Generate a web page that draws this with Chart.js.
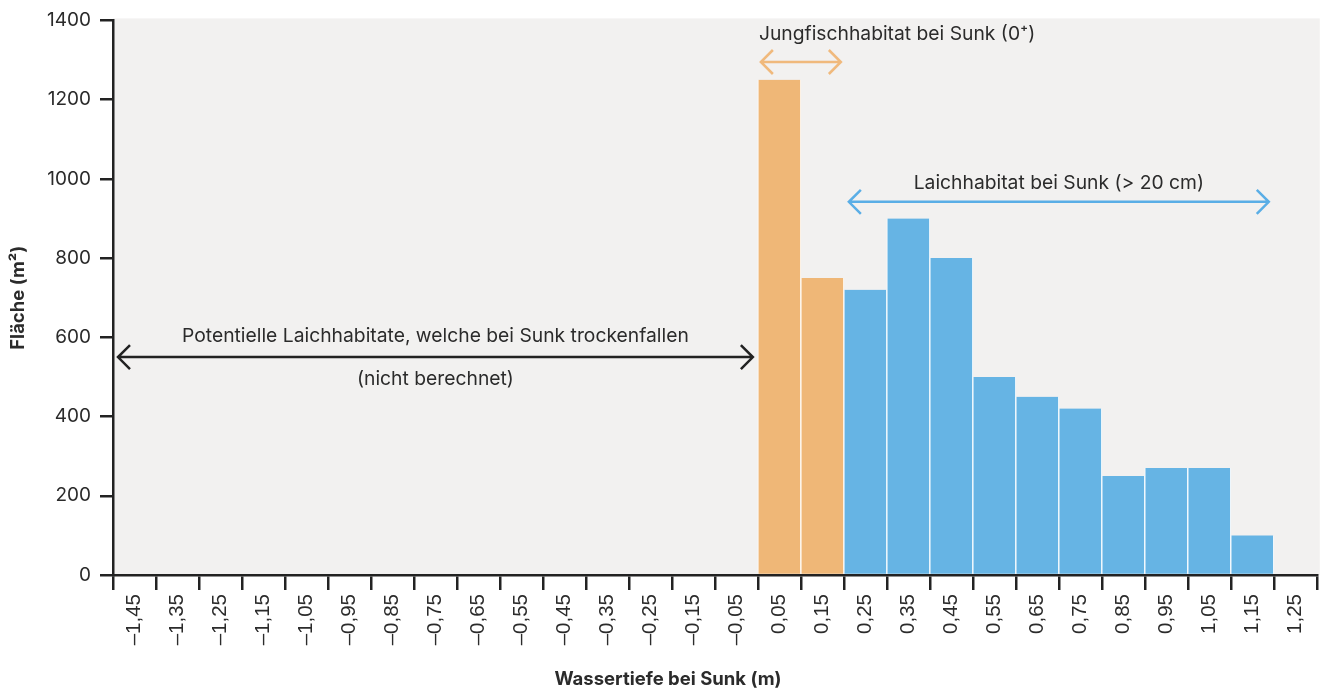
<!DOCTYPE html>
<html>
<head>
<meta charset="utf-8">
<script src="https://cdn.jsdelivr.net/npm/chart.js@4.4.1/dist/chart.umd.min.js"></script>
<style>
    html, body { margin: 0; padding: 0; background: #ffffff; }
    #wrap { width: 1324px; height: 688px; }
</style>
</head>
<body>
<div id="wrap"><canvas id="depthChart" width="1324" height="688"></canvas></div>
<script>
const depthLabels = ['–1,45', '–1,35', '–1,25', '–1,15', '–1,05', '–0,95', '–0,85', '–0,75', '–0,65', '–0,55',
    '–0,45', '–0,35', '–0,25', '–0,15', '–0,05', '0,05', '0,15', '0,25', '0,35', '0,45',
    '0,55', '0,65', '0,75', '0,85', '0,95', '1,05', '1,15', '1,25'];

// Flaeche in m2, null = nicht berechnet
const jungfischArea = [null, null, null, null, null, null, null, null, null, null,
    null, null, null, null, null, 1250, 750, null, null, null,
    null, null, null, null, null, null, null, null];
const laichArea = [null, null, null, null, null, null, null, null, null, null,
    null, null, null, null, null, null, null, 720, 900, 800,
    500, 450, 420, 250, 270, 270, 100, null];

const yTicksMax = 1400;
const yTicksStep = 200;

const TEXT_COLOR = '#2b2b2b';
const ORANGE = '#efb777';
const BLUE = '#66b4e4';

// annotation arrows: from category, to category, y value
const arrows = [
    { from: 0, to: 14, y: 550, color: '#222222', inset: 5 },
    { from: 15, to: 16, y: 1295, color: '#f0b97c', inset: 3 },
    { from: 17, to: 26, y: 942, color: '#5aaee6', inset: 5 }
];
const notes = [
    { text: 'Potentielle Laichhabitate, welche bei Sunk trockenfallen', from: 0, to: 14, y: 602, align: 'center' },
    { text: '(nicht berechnet)', from: 0, to: 14, y: 494, align: 'center' },
    { text: 'Jungfischhabitat bei Sunk (0⁺)', from: 15, to: 15, y: 1364, align: 'left' },
    { text: 'Laichhabitat bei Sunk (> 20 cm)', from: 17, to: 26, y: 990, align: 'center' }
];

const drawArrow = function (ctx, x1, x2, y, color) {
    const head = 12;
    ctx.save();
    ctx.strokeStyle = color;
    ctx.lineWidth = 2.5;
    ctx.lineCap = 'butt';
    ctx.beginPath();
    ctx.moveTo(x1, y);
    ctx.lineTo(x2, y);
    ctx.moveTo(x1 + head, y - head);
    ctx.lineTo(x1, y);
    ctx.lineTo(x1 + head, y + head);
    ctx.moveTo(x2 - head, y - head);
    ctx.lineTo(x2, y);
    ctx.lineTo(x2 - head, y + head);
    ctx.stroke();
    ctx.restore();
};

const backgroundPlugin = {
    id: 'plotBackground',
    beforeDraw: function (chart) {
        const ctx = chart.ctx;
        const area = chart.chartArea;
        ctx.save();
        ctx.fillStyle = '#f2f1f0';
        ctx.fillRect(area.left, area.top - 2, area.right - area.left + 3, area.bottom - area.top + 2);
        ctx.restore();
    }
};

const annotationPlugin = {
    id: 'habitatNotes',
    afterDraw: function (chart) {
        const ctx = chart.ctx;
        const xs = chart.scales.x;
        const ys = chart.scales.y;
        const half = (xs.getPixelForValue(1) - xs.getPixelForValue(0)) / 2;

        arrows.forEach(a => {
            const x1 = xs.getPixelForValue(a.from) - half + a.inset;
            const x2 = xs.getPixelForValue(a.to) + half - a.inset;
            drawArrow(ctx, x1, x2, ys.getPixelForValue(a.y), a.color);
        });

        ctx.save();
        ctx.fillStyle = TEXT_COLOR;
        ctx.font = '19.3px Inter';
        ctx.textBaseline = 'middle';
        notes.forEach(n => {
            const left = xs.getPixelForValue(n.from) - half;
            const right = xs.getPixelForValue(n.to) + half;
            ctx.textAlign = n.align;
            const x = n.align === 'left' ? left + 1 : (left + right) / 2;
            ctx.fillText(n.text, x, ys.getPixelForValue(n.y));
        });

        // axis titles
        ctx.font = 'bold 18.5px Inter';
        ctx.textAlign = 'center';
        ctx.fillText('Wassertiefe bei Sunk (m)', 668, 679);
        ctx.translate(18, (chart.chartArea.top + chart.chartArea.bottom) / 2);
        ctx.rotate(-Math.PI / 2);
        ctx.fillText('Fläche (m²)', 0, 0);
        ctx.restore();
    }
};

const data = {
    labels: depthLabels,
    datasets: [{
        label: 'Jungfischhabitat',
        backgroundColor: ORANGE,
        borderColor: '#ffffff',
        borderWidth: { left: 1, right: 1, top: 0, bottom: 0 },
        borderSkipped: false,
        data: jungfischArea,
        barPercentage: 1,
        categoryPercentage: 1,
        grouped: false
    }, {
        label: 'Laichhabitat',
        backgroundColor: BLUE,
        borderColor: '#ffffff',
        borderWidth: { left: 1, right: 1, top: 0, bottom: 0 },
        borderSkipped: false,
        data: laichArea,
        barPercentage: 1,
        categoryPercentage: 1,
        grouped: false
    }]
};

const config = {
    type: 'bar',
    data: data,
    plugins: [backgroundPlugin, annotationPlugin],
    options: {
        responsive: false,
        animation: false,
        layout: { padding: { top: 19, right: 7, left: 0, bottom: 0 } },
        plugins: {
            legend: { display: false },
            tooltip: { enabled: false }
        },
        scales: {
            x: {
                offset: true,
                border: { color: '#222222', width: 2.5 },
                grid: { offset: true, drawOnChartArea: false, color: '#222222', lineWidth: 2.5, tickLength: 15 },
                ticks: {
                    color: TEXT_COLOR,
                    font: { family: 'Liberation Sans', size: 20.5 },
                    minRotation: 90,
                    maxRotation: 90,
                    autoSkip: false,
                    padding: 4
                },
                afterFit: function (scale) { scale.height = 113; }
            },
            y: {
                min: 0,
                max: yTicksMax,
                border: { color: '#222222', width: 2.5 },
                grid: { drawOnChartArea: false, color: '#222222', lineWidth: 2.5, tickLength: 13 },
                ticks: {
                    stepSize: yTicksStep,
                    color: TEXT_COLOR,
                    font: { family: 'Inter', size: 19 },
                    padding: 9,
                    callback: function (value) { return String(value); }
                },
                afterFit: function (scale) { scale.width = 113; }
            }
        }
    }
};

const depthChart = new Chart(document.getElementById('depthChart'), config);
</script>
</body>
</html>
